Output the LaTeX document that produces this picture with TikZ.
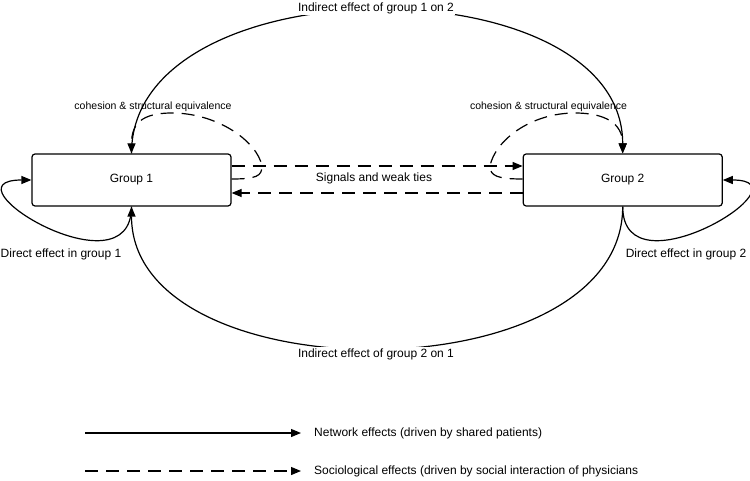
\documentclass[tikz,border=0pt]{standalone}
\usepackage{fontspec}
\setmainfont{Liberation Sans}
\usetikzlibrary{arrows.meta,positioning}

\tikzset{
  group/.style={draw, line width=1.2pt, rounded corners=3pt, minimum width=199pt, minimum height=52pt, font=\fontsize{12}{14}\selectfont},
  network/.style={line width=1.2pt, -{Triangle[length=10pt,width=8pt]}},
  social/.style={network, dash pattern=on 13pt off 8pt},
  lbl/.style={font=\fontsize{12}{14}\selectfont, inner sep=1pt},
  smalllbl/.style={font=\fontsize{10.5}{12}\selectfont, inner sep=1pt}
}

\begin{document}
\begin{tikzpicture}[x=1pt,y=1pt]
  \useasboundingbox (0,0) rectangle (750,480);

  \node[group] (g1) at (131.5,300) {Group 1};
  \node[group, right=291pt of g1] (g2) {Group 2};

  % indirect effects
  \draw[network] (g1.north) .. controls +(0,191) and +(0,191) .. (g2.north);
  \draw[network] (g2.south) .. controls +(0,-189) and +(0,-189) .. (g1.south);
  \node[lbl, fill=white] (i12) at (376,472) {Indirect effect of group 1 on 2};
  \node[lbl, fill=white] (i21) at (376,126) {Indirect effect of group 2 on 1};

  % direct effects
  \draw[network] (g1.south) .. controls +(0,-90) and +(-92,0) .. (g1.west);
  \draw[network] (g2.south) .. controls +(0,-90) and +(90,0) .. (g2.east);
  \node[lbl] (d1) at (61,226) {Direct effect in group 1};
  \node[lbl] (d2) at (686,226) {Direct effect in group 2};

  % signals and weak ties
  \draw[social] ([yshift=14pt]g1.east) -- ([yshift=14pt]g2.west);
  \draw[social] ([yshift=-13pt]g2.west) -- ([yshift=-13pt]g1.east);
  \node[lbl] (sig) at (374,302) {Signals and weak ties};

  % cohesion & structural equivalence
  \coordinate (hop1) at (262,314);
  \coordinate (top1) at (172,367);
  \coordinate (hop2) at (490,314);
  \coordinate (top2) at (575,367);
  \draw[social] ([yshift=1pt]g1.east) .. controls +(25,0) and +(0,-10) .. (hop1)
    .. controls +(-5,25) and +(45,0) .. (top1) .. controls +(-30,0) and +(0,30) .. (g1.north);
  \draw[social] ([yshift=1pt]g2.west) .. controls +(-25,0) and +(0,-10) .. (hop2)
    .. controls +(5,25) and +(-45,0) .. (top2) .. controls +(30,0) and +(0,30) .. (g2.north);
  \node[smalllbl] (coh1) at (153,373) {cohesion \& structural equivalence};
  \node[smalllbl] (coh2) at (548.5,373) {cohesion \& structural equivalence};

  % legend
  \coordinate (leg1) at (85,47);
  \coordinate (leg2) at (85,9);
  \node[lbl, anchor=west] (netlbl) at (313,47) {Network effects (driven by shared patients)};
  \node[lbl, anchor=west] (soclbl) at (313,9) {Sociological effects (driven by social interaction of physicians};
  \draw[network] (leg1) -- ([xshift=-12pt]netlbl.west);
  \draw[social] (leg2) -- ([xshift=-12pt]soclbl.west);
\end{tikzpicture}
\end{document}
